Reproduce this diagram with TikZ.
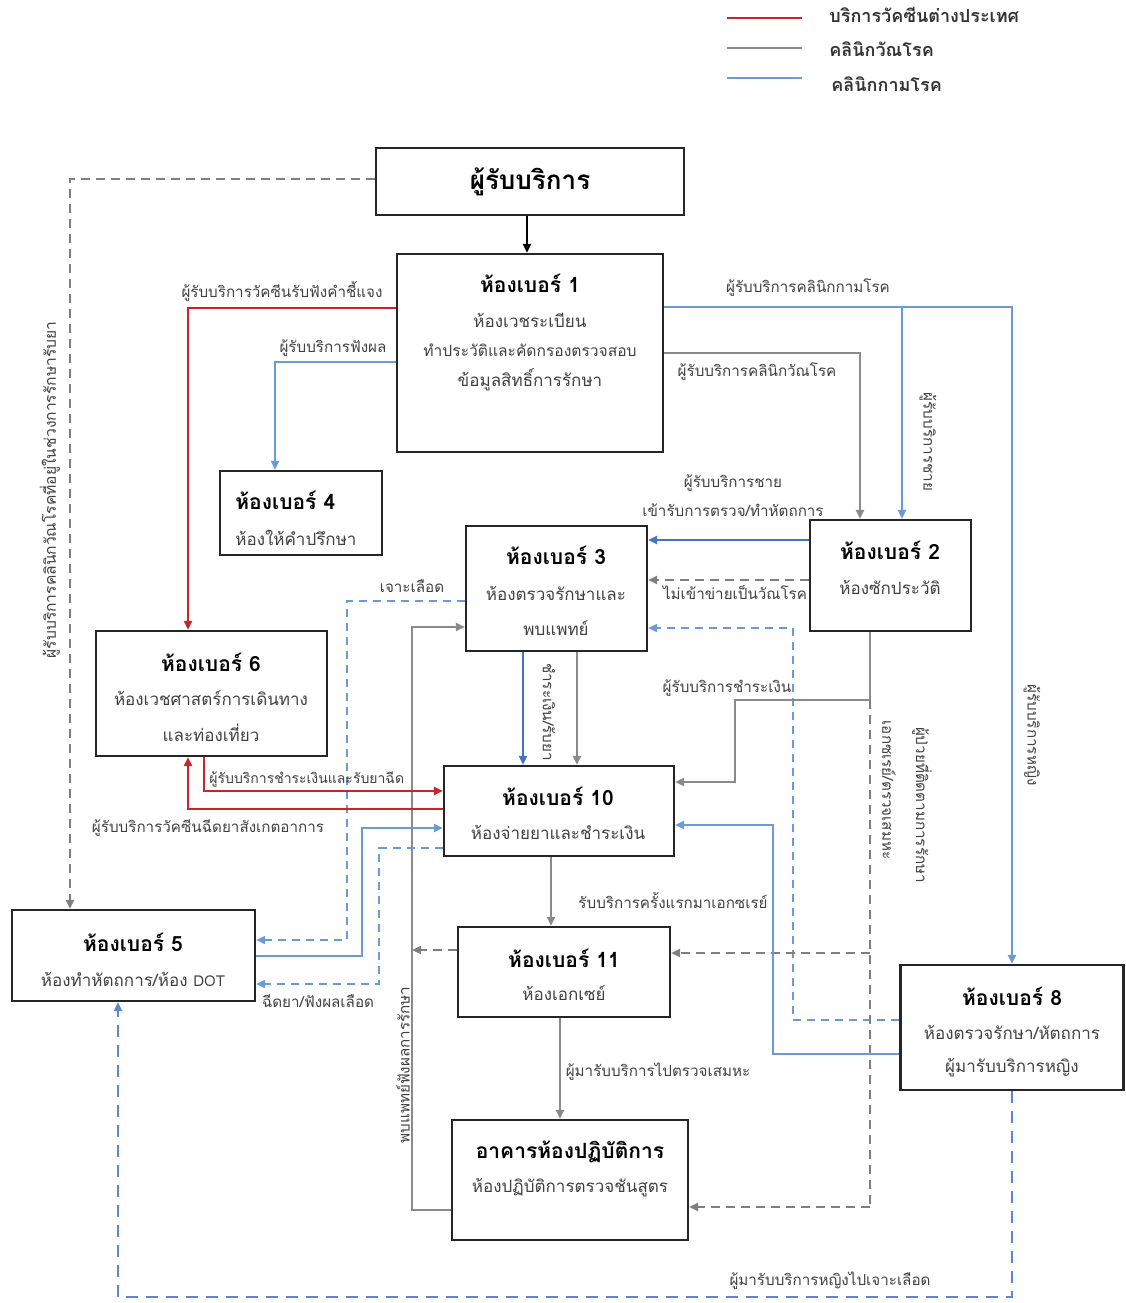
\documentclass[tikz,border=0pt]{standalone}
\usepackage{fontspec}
\setmainfont[Script=Thai]{Loma}
\usetikzlibrary{arrows.meta}

\definecolor{cred}{HTML}{CC2229}
\definecolor{cgray}{HTML}{8A8A8A}
\definecolor{cgrayd}{HTML}{7F7F7F}
\definecolor{cblue}{HTML}{6A9BD8}
\definecolor{cbluedk}{HTML}{4472C4}
\definecolor{ctext}{HTML}{404040}

\tikzset{
  x=0.5pt, y=-0.5pt,
  >={Triangle[length=4.5pt,width=4pt]},
  box/.style={draw=black!85, line width=1.1pt, inner sep=0pt},
  ttl/.style={font=\fontsize{10.5}{12}\selectfont\bfseries, text=black, inner sep=0pt},
  bodytxt/.style={font=\fontsize{8.5}{10}\selectfont, text=ctext, inner sep=0pt},
  lbl/.style={font=\fontsize{7.6}{9}\selectfont, text=ctext, inner sep=0pt},
  legtxt/.style={font=\fontsize{9}{11}\selectfont\bfseries, text=black!80, inner sep=0pt, anchor=west},
  redl/.style={draw=cred, line width=1pt},
  grayl/.style={draw=cgray, line width=1pt},
  graydash/.style={draw=cgrayd, line width=1pt, dash pattern=on 4.5pt off 3pt},
  bluel/.style={draw=cblue, line width=1pt},
  bluedk/.style={draw=cbluedk, line width=1pt},
  bluedash/.style={draw=cblue, line width=0.9pt, dash pattern=on 4pt off 3pt},
  bluedashdk/.style={draw=cbluedk!85, line width=1.3pt, dash pattern=on 6pt off 4pt},
}

\begin{document}
\begin{tikzpicture}
\useasboundingbox (0,0) rectangle (1126,1303);

% legend
\coordinate (lr1) at (727,18);  \coordinate (lr2) at (802,18);
\coordinate (lg1) at (727,48);  \coordinate (lg2) at (802,48);
\coordinate (lb1) at (727,78);  \coordinate (lb2) at (802,78);
\draw[redl] (lr1) -- (lr2);
\draw[grayl] (lg1) -- (lg2);
\draw[bluel] (lb1) -- (lb2);
\node[legtxt] (legA) at (829,15) {บริการวัคซีนต่างประเทศ};
\node[legtxt] (legB) at (829,49) {คลินิกวัณโรค};
\node[legtxt] (legC) at (831,84) {คลินิกกามโรค};

% rooms
\node[box, minimum width=154pt, minimum height=33.5pt] (r0) at (530,181.5) {};
\node[font=\fontsize{13}{15}\selectfont\bfseries, inner sep=0pt] (r0t) at (530,182) {ผู้รับบริการ};

\node[box, minimum width=133pt, minimum height=99pt] (r1) at (530,353) {};
\node[ttl] (r1t) at (530,283) {ห้องเบอร์ 1};
\node[bodytxt] (r1a) at (530,320) {ห้องเวชระเบียน};
\node[bodytxt, font=\fontsize{7.8}{10}\selectfont] (r1b) at (530,350) {ทำประวัติและคัดกรองตรวจสอบ};
\node[bodytxt] (r1c) at (530,380) {ข้อมูลสิทธิ์การรักษา};

\node[box, minimum width=81pt, minimum height=42pt] (r4) at (301,513) {};
\node[ttl, anchor=west] (r4t) at (235,500) {ห้องเบอร์ 4};
\node[bodytxt, anchor=west] (r4a) at (235,538) {ห้องให้คำปรึกษา};

\node[box, minimum width=90.5pt, minimum height=62.5pt] (r3) at (556.5,588.5) {};
\node[ttl] (r3t) at (556,555) {ห้องเบอร์ 3};
\node[bodytxt] (r3a) at (556,593) {ห้องตรวจรักษาและ};
\node[bodytxt] (r3b) at (556,628) {พบแพทย์};

\node[box, minimum width=80.5pt, minimum height=55.5pt] (r2) at (890.5,575.5) {};
\node[ttl] (r2t) at (890,550) {ห้องเบอร์ 2};
\node[bodytxt] (r2a) at (890,587) {ห้องซักประวัติ};

\node[box, minimum width=115.5pt, minimum height=62.5pt] (r6) at (211.5,693.5) {};
\node[ttl] (r6t) at (211,662) {ห้องเบอร์ 6};
\node[bodytxt] (r6a) at (211,698) {ห้องเวชศาสตร์การเดินทาง};
\node[bodytxt] (r6b) at (211,733) {และท่องเที่ยว};

\node[box, minimum width=115pt, minimum height=45pt] (r10) at (559,811) {};
\node[ttl] (r10t) at (558,796) {ห้องเบอร์ 10};
\node[bodytxt] (r10a) at (558,832) {ห้องจ่ายยาและชำระเงิน};

\node[box, minimum width=121.5pt, minimum height=45.5pt] (r5) at (133.5,955.5) {};
\node[ttl] (r5t) at (133,942) {ห้องเบอร์ 5};
\node[bodytxt] (r5a) at (133,979) {ห้องทำหัตถการ/ห้อง {\fontsize{7.5}{9}\selectfont DOT}};

\node[box, minimum width=106pt, minimum height=45pt] (r11) at (564,972) {};
\node[ttl] (r11t) at (564,958) {ห้องเบอร์ 11};
\node[bodytxt] (r11a) at (564,993) {ห้องเอกเซย์};

\node[box, minimum width=111.5pt, minimum height=62.5pt] (r8) at (1012,1027.5) {};
\node[ttl] (r8t) at (1012,996) {ห้องเบอร์ 8};
\node[bodytxt] (r8a) at (1012,1032) {ห้องตรวจรักษา/หัตถการ};
\node[bodytxt] (r8b) at (1012,1068) {ผู้มารับบริการหญิง};

\node[box, minimum width=118pt, minimum height=60pt] (lab) at (570,1180) {};
\node[ttl] (labt) at (570,1152) {อาคารห้องปฏิบัติการ};
\node[bodytxt] (laba) at (570,1188) {ห้องปฏิบัติการตรวจชันสูตร};

% connectors
\draw[black, line width=1pt, ->] (r0.south -| 527,0) -- (r1.north -| 527,0);

\draw[graydash, ->] (r0.west |- 0,179) -| (r5.north -| 70,0);

\draw[redl, ->] (r1.west |- 0,308) -| (r6.north -| 188,0);
\draw[bluel, ->] (r1.west |- 0,362) -| (r4.north -| 275,0);

\coordinate (jb) at (902,307);
\draw[bluel, ->] (r1.east |- 0,307) -| (r8.north -| 1012,0);
\draw[bluel, ->] (jb) -- (r2.north -| jb);
\draw[grayl, ->] (r1.east |- 0,353) -| (r2.north -| 860,0);

\draw[bluedk, ->] (r2.west |- 0,540) -- (r3.east |- 0,540);
\draw[graydash, ->] (r2.west |- 0,580) -- (r3.east |- 0,580);

\draw[bluedash, ->] (r8.west |- 0,1020) -| (793,628) -- (r3.east |- 0,628);
\draw[bluedash, ->] (r3.west |- 0,601) -| (347,940) -- (r5.east |- 0,940);

\draw[grayl, ->] (lab.west |- 0,1210) -| (412,627) -- (r3.west |- 0,627);

\draw[bluedk, ->] (r3.south -| 523,0) -- (r10.north -| 523,0);
\draw[grayl, ->] (r3.south -| 577,0) -- (r10.north -| 577,0);

\coordinate (jg) at (870,700);
\coordinate (jg2) at (870,953);
\coordinate (jg3) at (870,1207);
\draw[grayl, ->] (r2.south -| jg) -- (jg) -| (735,782) -- (r10.east |- 0,782);
\draw[graydash] (jg) -- (jg3);
\draw[graydash, ->] (jg3) -- (lab.east |- jg3);
\draw[graydash, ->] (jg2) -- (r11.east |- jg2);

\draw[bluel, ->] (r8.west |- 0,1054) -| (773,825) -- (r10.east |- 0,825);

\draw[redl, ->] (r6.south -| 204,0) |- (r10.west |- 0,791);
\draw[redl, ->] (r10.west |- 0,809) -| (r6.south -| 188,0);

\draw[bluel, ->] (r5.east |- 0,956) -| (362,828) -- (r10.west |- 0,828);
\draw[bluedash, ->] (r10.west |- 0,848) -| (379,984) -- (r5.east |- 0,984);

\draw[grayl, ->] (r10.south -| 551,0) -- (r11.north -| 551,0);
\draw[graydash, ->] (r11.west |- 0,950) -- (412,950);
\draw[grayl, ->] (r11.south -| 560,0) -- (lab.north -| 560,0);

\draw[bluedashdk, ->] (r8.south -| 1012,0) |- (118,1297) -- (r5.south -| 118,0);

% connector labels
\node[lbl] (l1) at (282,291) {ผู้รับบริการวัคซีนรับฟังคำชี้แจง};
\node[lbl] (l2) at (333,348) {ผู้รับบริการฟังผล};
\node[lbl] (l3) at (808,288) {ผู้รับบริการคลินิกกามโรค};
\node[lbl] (l4) at (757,372) {ผู้รับบริการคลินิกวัณโรค};
\node[lbl, rotate=-90] (l5) at (928,442) {ผู้รับบริการชาย};
\node[lbl] (l6) at (733,483) {ผู้รับบริการชาย};
\node[lbl] (l7) at (733,510) {เข้ารับการตรวจ/ทำหัตถการ};
\node[lbl] (l8) at (735,593) {ไม่เข้าข่ายเป็นวัณโรค};
\node[lbl] (l9) at (412,586) {เจาะเลือด};
\node[lbl, rotate=-90] (l10) at (549,712) {ชำระเงิน/รับยา};
\node[lbl] (l11) at (727,688) {ผู้รับบริการชำระเงิน};
\node[lbl, font=\fontsize{7}{9}\selectfont, anchor=west] (l12) at (209,779) {ผู้รับบริการชำระเงินและรับยาฉีด};
\node[lbl] (l13) at (208,828) {ผู้รับบริการวัคซีนฉีดยาสังเกตอาการ};
\node[lbl] (l14) at (318,1001) {ฉีดยา/ฟังผลเลือด};
\node[lbl] (l15) at (673,900) {รับบริการครั้งแรกมาเอกซเรย์};
\node[lbl] (l16) at (658,1072) {ผู้มารับบริการไปตรวจเสมหะ};
\node[lbl] (l17) at (830,1281) {ผู้มารับบริการหญิงไปเจาะเลือด};
\node[lbl, font=\fontsize{7.8}{9}\selectfont, rotate=90] (l18) at (50,490) {ผู้รับบริการคลินิกวัณโรคที่อยู่ในช่วงการรักษารับยา};
\node[lbl, rotate=-90] (l19) at (1032,735) {ผู้รับบริการหญิง};
\node[lbl, rotate=-90] (l20) at (922,805) {ผู้ป่วยที่ติดตามการรักษา};
\node[lbl, rotate=-90] (l21) at (889,790) {เอกซเรย์/ตรวจเสมหะ};
\node[lbl, rotate=90] (l22) at (403,1065) {พบแพทย์ฟังผลการรักษา};
\end{tikzpicture}
\end{document}
